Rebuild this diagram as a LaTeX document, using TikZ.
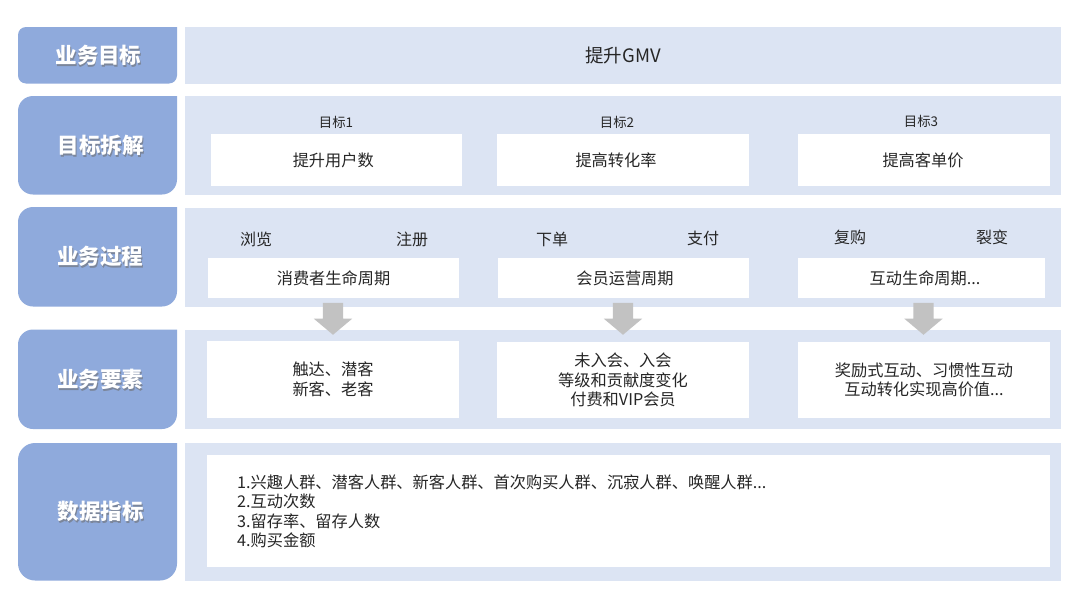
\documentclass[tikz,border=0pt]{standalone}
\usepackage{fontspec}
\setmainfont{Noto Sans CJK SC}
\usetikzlibrary{shapes.arrows}
\definecolor{headblue}{HTML}{8FAADC}
\definecolor{bandblue}{HTML}{DCE4F3}
\definecolor{inkgray}{HTML}{262626}
\definecolor{arrowgray}{HTML}{C2C2C2}
\newcommand{\shadowed}[1]{\makebox[0pt][l]{\hspace{1pt}\raisebox{-1.5pt}{\textcolor{headblue!55!black!75}{#1}}}#1}
\begin{document}
\begin{tikzpicture}[
        x=1pt, y=-1pt,
        band/.style={fill=bandblue, inner sep=0pt, text=inkgray, font=\fontsize{18.5}{22}\selectfont}, % Светлые полосы
        cell/.style={fill=white, inner sep=0pt, align=center, text=inkgray, font=\fontsize{16.2}{19.5}\selectfont}, % Белые блоки
        tag/.style={inner sep=0pt, text=inkgray, font=\fontsize{16}{19}\selectfont},
        small tag/.style={inner sep=0pt, text=inkgray, font=\fontsize{13.4}{16}\selectfont},
        head/.style={inner sep=0pt, text=white, font=\fontsize{21.5}{25}\selectfont\bfseries},
        down/.style={single arrow, fill=arrowgray, rotate=-90, inner xsep=0pt, inner ysep=10pt, minimum width=38, minimum height=32,
                single arrow head extend=9, single arrow tip angle=100, shape border uses incircle=false},
    ]

    \useasboundingbox (0,0) rectangle (1080,608);
    \fill[white] (0,0) rectangle (1080,608);

    % Левая колонка
    \foreach \ytop/\ybot/\rad/\tx/\ty/\nm/\lbl in {
            27/83.5/8/98.5/56.5/headA/业务目标,
            96/194.5/15/100.5/146.5/headB/目标拆解,
            207/306.5/15/100/257.5/headC/业务过程,
            329.5/429/15/100/380.5/headD/业务要素,
            443/580.5/17/100.5/512.5/headE/数据指标} {
        \fill[headblue, rounded corners=\rad] (177,\ytop) -- (18,\ytop) -- (18,\ybot) -- (177,\ybot) [sharp corners] -- cycle;
        \node[head] (\nm) at (\tx,\ty) {\shadowed{\lbl}};
    }

    % Полосы
    \node[band, minimum width=876, minimum height=56.5] (bandA) at (623,55.25) {提升GMV};
    \node[band, minimum width=876, minimum height=98.5] (bandB) at (623,145.25) {};
    \node[band, minimum width=876, minimum height=98.5] (bandC) at (623,257.25) {};
    \node[band, minimum width=876, minimum height=99.5] (bandD) at (623,379.25) {};
    \node[band, minimum width=876, minimum height=137.5] (bandE) at (623,511.75) {};

    % Цели
    \node[small tag] (goalA) at (336,122) {目标1};
    \node[small tag] (goalB) at (617,122.5) {目标2};
    \node[small tag] (goalC) at (921,121) {目标3};
    \node[cell, minimum width=250.5, minimum height=52] (splitA) at (336.25,160) {\hspace{-6pt}提升用户数};
    \node[cell, minimum width=252, minimum height=52] (splitB) at (623,160) {\hspace{-14pt}提高转化率};
    \node[cell, minimum width=251.5, minimum height=52] (splitC) at (924,160) {\hspace{-2pt}提高客单价};

    % Процессы
    \node[tag] (stepA) at (256,239) {浏览};
    \node[tag] (stepB) at (412,239) {注册};
    \node[tag] (stepC) at (552,239) {下单};
    \node[tag] (stepD) at (703,238) {支付};
    \node[tag] (stepE) at (850,237) {复购};
    \node[tag] (stepF) at (992,237) {裂变};
    \node[cell, minimum width=251, minimum height=40] (lifeA) at (333.5,278) {消费者生命周期};
    \node[cell, minimum width=251, minimum height=40] (lifeB) at (623.5,278) {\hspace{3pt}会员运营周期};
    \node[cell, minimum width=247, minimum height=40] (lifeC) at (921.5,278) {\hspace{7pt}互动生命周期...};

    % Элементы
    \node[cell, minimum width=252, minimum height=77] (partA) at (333,379.5) {触达、潜客\\新客、老客};
    \node[cell, minimum width=252, minimum height=76] (partB) at (623,380) {未入会、入会\\等级和贡献度变化\\付费和VIP会员};
    \node[cell, minimum width=252, minimum height=76] (partC) at (924,380) {奖励式互动、习惯性互动\\互动转化实现高价值...};

    % Стрелки
    \foreach \ax/\nm in {333/arrowA, 623/arrowB, 923.5/arrowC} {
        \node[down] (\nm) at (\ax,314.5) {};
    }

    % Показатели
    \node[cell, minimum width=843, minimum height=112] (dataBox) at (628.5,511) {};
    \node[cell, align=left, anchor=west] (dataText) at (237,511.5) {1.兴趣人群、潜客人群、新客人群、首次购买人群、沉寂人群、唤醒人群...\\2.互动次数\\3.留存率、留存人数\\4.购买金额};
\end{tikzpicture}
\end{document}
